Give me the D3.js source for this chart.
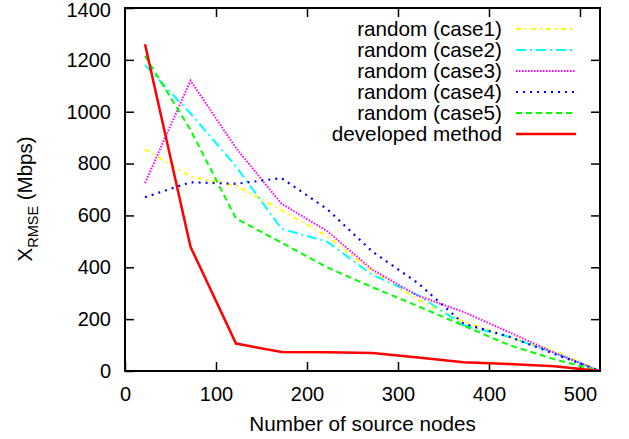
<!DOCTYPE html>
<html>
<head>
    <meta charset="utf-8" />
    <title>RMSE vs source nodes</title>
    <style>
        body { margin: 0; background: #fff; overflow: hidden; }
        text { font-family: "Liberation Sans", Arial, sans-serif; fill: #000; }
    </style>
</head>
<body>
    <div id="chart"></div>
    <script src="https://d3js.org/d3.v7.min.js"></script>
    <script>
        // number of source nodes (x) for every series
        var nodes = [22, 72, 122, 172, 222, 272, 322, 372, 422, 472, 522];

        // X_RMSE values (Mbps)
        var case1 = [855, 750, 715, 620, 520, 385, 275, 190, 130, 78, 0];
        var case2 = [1180, 993, 789, 548, 499, 370, 293, 177, 132, 70, 0];
        var case3 = [725, 1120, 860, 645, 540, 390, 290, 228, 150, 70, 0];
        var case4 = [670, 728, 722, 744, 625, 460, 339, 183, 133, 66, 0];
        var case5 = [1215, 930, 588, 495, 400, 323, 250, 175, 100, 45, 0];
        var developed = [1260, 479, 106, 73, 72, 69, 52, 34, 27, 18, 0];

        var xTicks = [0, 100, 200, 300, 400, 500];
        var yTicks = [0, 200, 400, 600, 800, 1000, 1200, 1400];

        var series = [
            { name: "random (case1)", values: case1, color: "#ffff00", dash: "5,4,2,4", width: 2 },
            { name: "random (case2)", values: case2, color: "#00ffff", dash: "10,4,2,4", width: 2 },
            { name: "random (case3)", values: case3, color: "#ff00ff", dash: "1.5,1.5", width: 2 },
            { name: "random (case4)", values: case4, color: "#0000ff", dash: "2,5", width: 2.2 },
            { name: "random (case5)", values: case5, color: "#00ff00", dash: "6,4", width: 2 },
            { name: "developed method", values: developed, color: "#ff0000", dash: null, width: 2.5 }
        ];

        var W = 629, H = 439;
        var margin = { top: 8, left: 125, right: 29, bottom: 68 };
        var width = W - margin.left - margin.right;
        var height = H - margin.top - margin.bottom;

        var svg = d3.select("#chart").append("svg")
            .attr("width", W)
            .attr("height", H);
        var g = svg.append("g")
            .attr("transform", `translate(${margin.left},${margin.top})`);

        var x = d3.scaleLinear().domain([0, 522]).range([0, width]);
        var y = d3.scaleLinear().domain([0, 1400]).range([height, 0]);

        // axes with inward ticks, mirrored on top and right
        function styleAxis(sel) {
            sel.select(".domain").remove();
            sel.selectAll("line").attr("stroke", "#000").attr("stroke-width", 1.5);
            sel.selectAll("text").style("font-size", "20px");
        }
        g.append("g")
            .attr("transform", `translate(0,${height})`)
            .call(d3.axisBottom(x).tickValues(xTicks).tickSize(-9).tickPadding(15.5).tickFormat(d3.format("d")))
            .call(styleAxis);
        g.append("g")
            .call(d3.axisTop(x).tickValues(xTicks.slice(1)).tickSize(-9).tickFormat(""))
            .call(styleAxis);
        var yAxis = g.append("g")
            .call(d3.axisLeft(y).tickValues(yTicks).tickSize(-9).tickPadding(14).tickFormat(d3.format("d")))
            .call(styleAxis);
        // top label sits a little lower, as in the original
        yAxis.selectAll(".tick text").filter(d => d === 1400).attr("y", 2);
        g.append("g")
            .attr("transform", `translate(${width},0)`)
            .call(d3.axisRight(y).tickValues(yTicks.slice(1, -1)).tickSize(-9).tickFormat(""))
            .call(styleAxis);

        var line = d3.line()
            .x((d, i) => x(nodes[i]))
            .y(d => y(d));

        g.append("defs").append("clipPath").attr("id", "clip")
            .append("rect").attr("width", width).attr("height", height);

        g.append("g").attr("clip-path", "url(#clip)")
            .selectAll("path")
            .data(series)
            .join("path")
            .attr("d", d => line(d.values))
            .attr("fill", "none")
            .attr("stroke", d => d.color)
            .attr("stroke-width", d => d.width)
            .attr("stroke-dasharray", d => d.dash);

        // frame
        g.append("rect")
            .attr("width", width)
            .attr("height", height)
            .attr("fill", "none")
            .attr("stroke", "#000")
            .attr("stroke-width", 2);

        // legend
        var legend = svg.append("g")
            .attr("transform", "translate(502,29)");
        var rows = legend.selectAll("g")
            .data(series)
            .join("g")
            .attr("transform", (d, i) => `translate(0,${i * 21})`);
        rows.append("text")
            .attr("text-anchor", "end")
            .attr("dy", "0.35em")
            .style("font-size", "20.7px")
            .text(d => d.name);
        rows.append("line")
            .attr("x1", 14).attr("x2", 74)
            .attr("stroke", d => d.color)
            .attr("stroke-width", d => d.width)
            .attr("stroke-dasharray", d => d.dash);

        // axis titles
        svg.append("text")
            .attr("x", margin.left + width / 2)
            .attr("y", 431)
            .attr("text-anchor", "middle")
            .style("font-size", "20.7px")
            .text("Number of source nodes");

        var yTitle = svg.append("text")
            .attr("transform", "translate(32,199) rotate(-90)")
            .attr("text-anchor", "middle")
            .style("font-size", "20.5px");
        yTitle.append("tspan").text("X");
        yTitle.append("tspan").attr("dy", 6).style("font-size", "14.5px").text("RMSE");
        yTitle.append("tspan").attr("dy", -6).text(" (Mbps)");
    </script>
</body>
</html>
